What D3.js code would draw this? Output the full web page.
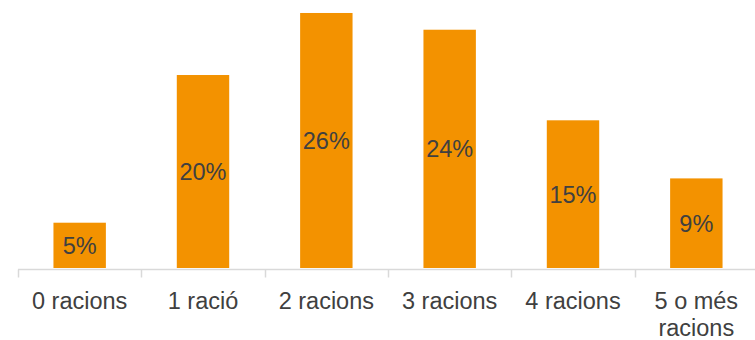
<!DOCTYPE html>
<html>
<head>
<meta charset="utf-8">
<script src="https://cdn.jsdelivr.net/npm/d3@7"></script>
<style>
  html, body { margin: 0; padding: 0; background: #fff; }
  svg { display: block; font-family: "Liberation Sans", Arial, sans-serif; }
</style>
</head>
<body>
<svg id="chart" width="755" height="340"></svg>
<script>
// Number of daily servings, share of respondents (%)
const categories = ["0 racions", "1 ració", "2 racions", "3 racions", "4 racions", "5 o més racions"];
const shares = [4.6, 19.6, 25.9, 24.2, 15.0, 9.1];

const width = 755, height = 340;
const margin = { left: 18, right: -3, top: 0, bottom: 72 };
const svg = d3.select("#chart");

const x = d3.scaleBand()
  .domain(categories)
  .range([margin.left, width - margin.right])
  .paddingInner(0.575)
  .paddingOuter(0.2875);

const baseline = 268;
const y = d3.scaleLinear().domain([0, 26]).range([baseline, baseline - 256]);

// bars
svg.append("g").selectAll("rect")
  .data(categories)
  .join("rect")
  .attr("x", d => x(d))
  .attr("width", x.bandwidth())
  .attr("y", (d, i) => y(shares[i]))
  .attr("height", (d, i) => baseline - y(shares[i]))
  .attr("fill", "#F39200");

// value labels, centred in each bar
svg.append("g").selectAll("text")
  .data(categories)
  .join("text")
  .attr("x", d => x(d) + x.bandwidth() / 2)
  .attr("y", (d, i) => (y(shares[i]) + baseline) / 2)
  .attr("dy", "0.36em")
  .attr("text-anchor", "middle")
  .attr("font-size", 23.5)
  .attr("fill", "#404040")
  .text((d, i) => Math.round(shares[i]) + "%");

// category axis with boundary ticks
const step = x.step();
const axisY = 269.5;
const axis = svg.append("g");
axis.append("line")
  .attr("x1", margin.left).attr("x2", width + 5)
  .attr("y1", axisY).attr("y2", axisY)
  .attr("stroke", "#d9d9d9").attr("stroke-width", 1.5);
const bounds = d3.range(categories.length + 1).map(i => x(categories[0]) - x.paddingOuter() * step + i * step);
axis.selectAll("line.tick")
  .data(bounds)
  .join("line")
  .attr("class", "tick")
  .attr("x1", d => Math.round(d) + 0.5).attr("x2", d => Math.round(d) + 0.5)
  .attr("y1", axisY).attr("y2", axisY + 8)
  .attr("stroke", "#d9d9d9").attr("stroke-width", 1.5);

// category labels (wrap the long one on two lines)
const wrapped = { "5 o més racions": ["5 o més", "racions"] };
const labels = axis.selectAll("text.cat")
  .data(categories)
  .join("text")
  .attr("class", "cat")
  .attr("x", d => x(d) + x.bandwidth() / 2)
  .attr("y", 309)
  .attr("text-anchor", "middle")
  .attr("font-size", 23.5)
  .attr("fill", "#404040");
labels.each(function(d) {
  const lines = wrapped[d] || [d];
  const t = d3.select(this);
  lines.forEach((ln, k) => {
    t.append("tspan")
      .attr("x", x(d) + x.bandwidth() / 2)
      .attr("dy", k === 0 ? 0 : 27)
      .text(ln);
  });
});
</script>
</body>
</html>
